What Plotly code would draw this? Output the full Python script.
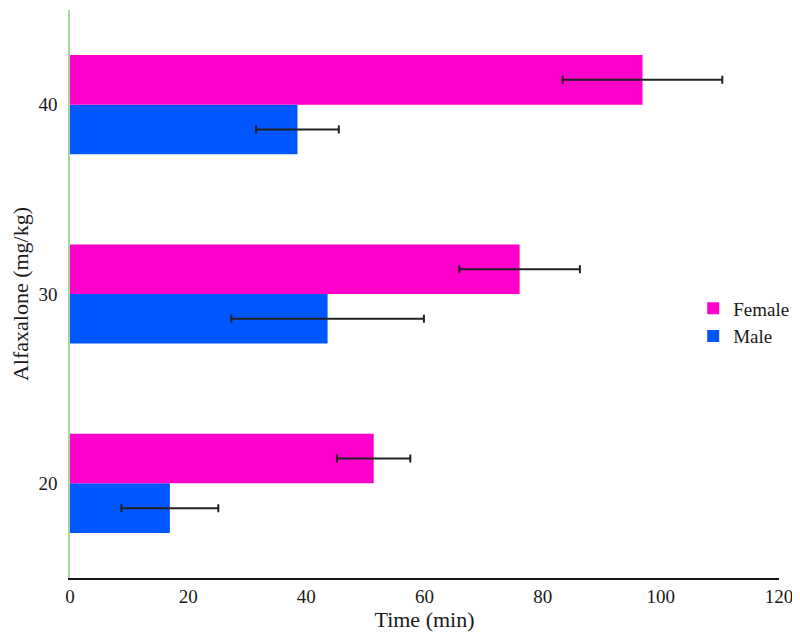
import plotly.graph_objects as go

doses = ["20", "30", "40"]
female = [51.4, 76.1, 96.9]
female_err = [6.2, 10.2, 13.5]
male = [16.9, 43.6, 38.5]
male_err = [8.2, 16.3, 7.0]

font_family = "Liberation Serif, DejaVu Serif, serif"

fig = go.Figure()
fig.add_trace(go.Bar(
    y=doses, x=male, orientation="h", name="Male",
    marker=dict(color="#0057ff", line=dict(width=0)),
    error_x=dict(type="data", array=male_err, visible=True, color="#222222", thickness=2, width=4),
))
fig.add_trace(go.Bar(
    y=doses, x=female, orientation="h", name="Female",
    marker=dict(color="#ff00cc", line=dict(width=0)),
    error_x=dict(type="data", array=female_err, visible=True, color="#222222", thickness=2, width=4),
))

fig.update_layout(
    width=792, height=636,
    margin=dict(l=62, r=21, t=2, b=66, autoexpand=False),
    paper_bgcolor="white", plot_bgcolor="white",
    barmode="group", bargap=0.476, bargroupgap=0,
    font=dict(family=font_family, size=18, color="#1a1a1a"),
    legend=dict(x=0.879, y=0.45, xanchor="left", yanchor="middle",
                traceorder="reversed", font=dict(size=19), itemwidth=30,
                bgcolor="rgba(0,0,0,0)"),
    xaxis=dict(range=[0, 120], dtick=20, showgrid=False, zeroline=False,
               showline=True, linecolor="#111111", linewidth=1.5,
               ticks="", ticklabelstandoff=0,
               title=dict(text="Time (min)", standoff=4),
               tickfont=dict(size=19), automargin=True),
    yaxis=dict(type="category", range=[-0.5, 2.5], showgrid=False, zeroline=False,
               showline=True, linecolor="#a8d4a0", linewidth=1.5,
               ticks="", ticklabelstandoff=7,
               title=dict(text="Alfaxalone (mg/kg)", standoff=8),
               tickfont=dict(size=19), automargin=True),
)

fig.write_html("out.html")
